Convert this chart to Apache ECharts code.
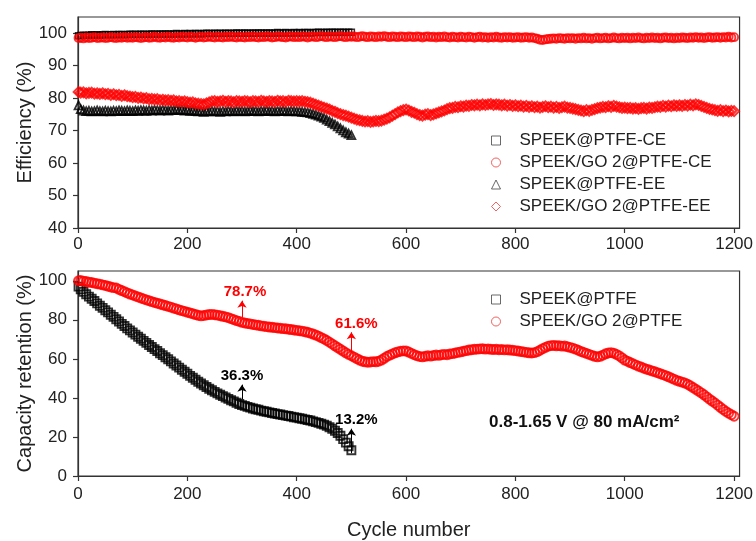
<!DOCTYPE html>
<html>
<head>
<meta charset="utf-8">
<script src="https://cdn.jsdelivr.net/npm/echarts@6/dist/echarts.min.js"></script>
<style>
  html, body { margin: 0; padding: 0; background: #fff; }
  #chart { width: 756px; height: 541px; }
</style>
</head>
<body>
<div id="chart"></div>
<script>
// Cycles between stored points (first point is cycle 1)
const STEP = 5;

const xTicks = [0, 200, 400, 600, 800, 1000, 1200];
const effTicks = [40, 50, 60, 70, 80, 90, 100];
const capTicks = [0, 20, 40, 60, 80, 100];

// Coulombic efficiency (%), SPEEK@PTFE, cycles 1..500
const ceBare = [
  99.2, 99.3, 99.4, 99.3, 99.4, 99.5, 99.4, 99.5, 99.4, 99.5, 99.6, 99.5, 99.5, 99.6, 99.5, 99.6, 99.6, 99.5, 99.6, 99.7,
  99.6, 99.7, 99.6, 99.7, 99.7, 99.6, 99.7, 99.8, 99.7, 99.7, 99.8, 99.7, 99.8, 99.8, 99.7, 99.8, 99.9, 99.8, 99.8, 99.9,
  99.8, 99.9, 99.8, 99.9, 99.9, 99.8, 99.9, 100.0, 99.9, 99.9, 100.0, 99.9, 100.0, 99.9, 100.0, 100.0, 99.9, 100.0, 100.1, 100.0,
  100.0, 100.1, 100.0, 100.0, 100.1, 100.0, 100.1, 100.1, 100.0, 100.1, 100.1, 100.0, 100.1, 100.2, 100.1, 100.1, 100.2, 100.1, 100.1, 100.2,
  100.1, 100.2, 100.1, 100.2, 100.2, 100.1, 100.2, 100.2, 100.3, 100.2, 100.2, 100.3, 100.2, 100.3, 100.3, 100.2, 100.3, 100.3, 100.2, 100.3,
  100.3
];

// Coulombic efficiency (%), SPEEK/GO 2@PTFE, cycles 1..1200
const ceGO = [
  98.5, 98.6, 98.4, 98.7, 98.5, 98.6, 98.8, 98.5, 98.6, 98.7, 98.5, 98.6, 98.8, 98.6, 98.5, 98.7, 98.6, 98.8, 98.6, 98.7,
  98.6, 98.8, 98.7, 98.5, 98.7, 98.8, 98.6, 98.7, 98.9, 98.7, 98.6, 98.8, 98.7, 98.9, 98.7, 98.6, 98.8, 98.7, 98.9, 98.8,
  98.7, 98.9, 98.8, 98.6, 98.8, 98.9, 98.7, 98.8, 99.0, 98.8, 98.7, 98.9, 98.8, 98.7, 98.9, 98.8, 99.0, 98.8, 98.7, 98.9,
  98.8, 98.7, 98.9, 98.8, 99.0, 98.8, 98.7, 98.9, 98.8, 99.0, 98.9, 98.7, 98.8, 99.0, 98.9, 98.8, 98.7, 98.9, 99.0, 98.8,
  98.9, 98.8, 99.0, 98.9, 98.7, 98.9, 99.0, 98.8, 98.9, 99.1, 98.9, 98.8, 99.0, 98.9, 98.8, 99.0, 99.1, 98.9, 98.8, 99.0,
  98.9, 99.0, 98.8, 98.9, 99.1, 98.9, 98.8, 99.0, 98.9, 98.8, 99.0, 98.9, 99.1, 98.9, 98.8, 99.0, 98.9, 98.8, 99.0, 98.9,
  98.8, 99.0, 98.9, 98.8, 99.0, 98.9, 98.7, 98.9, 99.0, 98.8, 98.9, 98.7, 98.9, 98.8, 99.0, 98.8, 98.7, 98.9, 98.8, 98.7,
  98.9, 98.8, 98.7, 98.9, 98.8, 98.6, 98.8, 98.9, 98.7, 98.8, 98.6, 98.8, 98.7, 98.9, 98.7, 98.6, 98.8, 98.7, 98.8, 98.6,
  98.7, 98.8, 98.6, 98.7, 98.8, 98.6, 98.7, 98.5, 98.3, 98.0, 97.9, 98.1, 98.2, 98.3, 98.4, 98.3, 98.5, 98.4, 98.3, 98.5,
  98.4, 98.5, 98.3, 98.5, 98.4, 98.6, 98.4, 98.5, 98.3, 98.5, 98.6, 98.4, 98.5, 98.6, 98.4, 98.5, 98.7, 98.5, 98.4, 98.6,
  98.5, 98.6, 98.4, 98.6, 98.5, 98.7, 98.5, 98.4, 98.6, 98.5, 98.7, 98.5, 98.6, 98.4, 98.6, 98.7, 98.5, 98.6, 98.4, 98.6,
  98.5, 98.7, 98.6, 98.5, 98.7, 98.6, 98.8, 98.6, 98.7, 98.5, 98.7, 98.8, 98.6, 98.7, 98.8, 98.6, 98.8, 98.7, 98.9, 98.7,
  98.8
];

// Energy efficiency (%), SPEEK@PTFE, cycles 1..500
const eeBare = [
  77.8, 76.6, 76.2, 76.0, 76.1, 75.9, 76.0, 76.2, 76.0, 75.9, 76.1, 76.0, 75.9, 76.1, 76.0, 76.2, 76.1, 76.0, 76.2, 76.1,
  76.0, 76.2, 76.1, 76.3, 76.2, 76.1, 76.3, 76.2, 76.4, 76.3, 76.2, 76.4, 76.3, 76.2, 76.4, 76.3, 76.5, 76.3, 76.4, 76.2,
  76.3, 76.1, 76.2, 76.0, 75.9, 76.0, 75.8, 76.0, 75.9, 76.1, 75.9, 76.0, 75.8, 76.0, 75.9, 76.1, 76.0, 75.9, 76.1, 76.0,
  76.1, 75.9, 76.0, 76.2, 76.0, 76.1, 75.9, 76.1, 76.0, 76.2, 76.0, 76.1, 75.9, 76.1, 76.0, 76.2, 76.0, 75.9, 76.1, 76.0,
  75.9, 75.9, 75.8, 75.7, 75.6, 75.4, 75.2, 74.9, 74.6, 74.3, 73.9, 73.4, 72.9, 72.4, 71.9, 71.3, 70.7, 70.1, 69.5, 69.1,
  68.6
];

// Energy efficiency (%), SPEEK/GO 2@PTFE, cycles 1..1200
const eeGO = [
  81.9, 81.7, 81.8, 81.5, 81.6, 81.7, 81.4, 81.5, 81.3, 81.5, 81.2, 81.3, 81.0, 81.2, 80.9, 81.0, 80.7, 80.9, 80.6, 80.5,
  80.3, 80.4, 80.1, 80.2, 79.9, 80.0, 79.7, 79.8, 79.6, 79.7, 79.4, 79.5, 79.3, 79.4, 79.2, 79.3, 79.0, 79.1, 78.9, 79.0,
  78.8, 78.6, 78.7, 78.4, 78.3, 78.2, 78.1, 78.4, 78.7, 79.0, 79.1, 78.9, 79.0, 79.2, 78.9, 79.1, 79.0, 78.8, 79.1, 79.0,
  78.9, 79.1, 79.0, 78.8, 79.1, 79.0, 78.9, 79.2, 79.0, 78.9, 79.1, 79.0, 78.9, 79.2, 79.0, 79.1, 78.9, 79.2, 79.1, 79.0,
  79.1, 79.0, 79.1, 78.9, 78.8, 78.6, 78.3, 78.0, 77.7, 77.4, 77.1, 76.8, 76.5, 76.1, 75.8, 75.4, 75.1, 74.8, 74.6, 74.3,
  74.0, 73.7, 73.4, 73.2, 73.0, 72.8, 72.9, 72.7, 72.8, 73.0, 72.9, 73.1, 73.4, 73.7, 74.1, 74.6, 75.1, 75.6, 76.0, 76.3,
  76.5, 76.2, 75.8, 75.5, 75.1, 74.8, 74.6, 74.9, 75.1, 74.8, 75.0, 75.3, 75.6, 75.9, 76.2, 76.6, 76.9, 77.0, 77.3, 77.2,
  77.5, 77.4, 77.7, 77.6, 77.9, 77.8, 78.0, 77.8, 78.1, 77.9, 78.1, 78.2, 77.9, 78.1, 78.0, 77.8, 78.0, 77.7, 77.9, 77.6,
  77.8, 77.5, 77.7, 77.4, 77.6, 77.3, 77.5, 77.2, 77.4, 77.1, 77.3, 77.5, 77.2, 77.4, 77.1, 77.3, 77.0, 77.2, 77.4, 77.1,
  77.0, 76.8, 76.6, 76.4, 76.2, 76.0, 76.3, 76.1, 76.4, 76.6, 76.9, 77.1, 77.3, 77.2, 77.5, 77.3, 77.6, 77.4, 77.2, 77.0,
  77.1, 76.9, 77.0, 76.8, 76.9, 76.7, 76.9, 77.0, 76.8, 77.1, 77.0, 77.2, 77.4, 77.3, 77.6, 77.4, 77.7, 77.5, 77.8, 77.6,
  77.8, 77.6, 77.9, 77.7, 78.0, 77.8, 78.1, 77.9, 77.6, 77.3, 77.0, 76.7, 76.5, 76.3, 76.1, 76.3, 76.0, 76.2, 75.9, 76.1,
  76.0
];

// Capacity retention (%), SPEEK@PTFE, cycles 1..500
const capBare = [
  97.0, 95.6, 94.3, 93.1, 91.9, 90.8, 89.6, 88.4, 87.2, 86.1, 84.9, 83.8, 82.6, 81.5, 80.3, 79.1, 77.9, 76.8, 75.6, 74.6,
  73.5, 72.4, 71.3, 70.3, 69.2, 68.2, 67.1, 66.1, 65.0, 64.0, 62.9, 61.9, 60.8, 59.8, 58.7, 57.6, 56.6, 55.5, 54.4, 53.4,
  52.4, 51.3, 50.3, 49.3, 48.3, 47.4, 46.5, 45.6, 44.7, 43.9, 43.1, 42.3, 41.6, 40.9, 40.2, 39.5, 38.8, 38.2, 37.5, 36.9,
  36.3, 35.9, 35.4, 35.0, 34.6, 34.2, 33.9, 33.5, 33.2, 32.9, 32.6, 32.3, 32.0, 31.7, 31.5, 31.2, 30.9, 30.7, 30.4, 30.1,
  29.9, 29.6, 29.3, 29.0, 28.7, 28.4, 28.0, 27.6, 27.2, 26.8, 26.3, 25.7, 25.0, 24.2, 23.2, 22.0, 20.6, 18.9, 17.1, 15.2,
  13.2
];

// Capacity retention (%), SPEEK/GO 2@PTFE, cycles 1..1200
const capGO = [
  100.0, 100.1, 99.8, 99.6, 99.3, 99.1, 98.8, 98.5, 98.3, 97.9, 97.6, 97.2, 96.8, 96.5, 96.3, 95.6, 95.0, 94.4, 93.8, 93.2,
  92.7, 92.2, 91.7, 91.2, 90.7, 90.2, 89.8, 89.3, 88.9, 88.5, 88.1, 87.7, 87.3, 86.9, 86.5, 86.0, 85.6, 85.1, 84.7, 84.3,
  83.9, 83.5, 83.1, 82.7, 82.3, 82.0, 82.2, 82.5, 82.7, 82.8, 82.6, 82.4, 82.1, 81.8, 81.5, 81.1, 80.6, 80.1, 79.6, 79.2,
  78.7, 78.4, 78.1, 77.9, 77.6, 77.4, 77.2, 76.9, 76.7, 76.5, 76.3, 76.2, 76.0, 75.8, 75.7, 75.5, 75.4, 75.2, 75.0, 74.8,
  74.6, 74.4, 74.2, 73.9, 73.6, 73.2, 72.7, 72.2, 71.6, 70.9, 70.2, 69.4, 68.5, 67.6, 66.7, 65.8, 64.9, 64.0, 63.1, 62.3,
  61.6, 60.9, 60.1, 59.4, 58.8, 58.5, 58.3, 58.4, 58.6, 58.5, 58.8, 59.4, 60.3, 61.2, 61.9, 62.5, 63.1, 63.6, 63.9, 64.1,
  64.0, 63.5, 62.8, 62.1, 61.6, 61.2, 61.0, 61.3, 61.6, 61.4, 61.7, 62.0, 61.8, 62.1, 62.3, 62.1, 62.5, 62.7, 63.0, 63.3,
  63.6, 63.9, 64.2, 64.5, 64.7, 64.9, 65.0, 65.1, 65.2, 65.0, 65.1, 64.9, 64.8, 64.9, 64.7, 64.8, 64.6, 64.7, 64.5, 64.4,
  64.2, 64.0, 63.8, 63.6, 63.3, 63.1, 63.0, 63.2, 63.7, 64.4, 65.2, 65.9, 66.5, 66.8, 66.9, 66.7, 66.8, 66.5, 66.6, 66.2,
  65.9, 65.5, 65.0, 64.4, 63.8, 63.3, 62.8, 62.3, 61.8, 61.3, 61.0, 61.3, 61.9, 62.6, 63.0, 63.2, 62.9, 62.3, 61.5, 60.5,
  59.4, 58.8, 58.1, 57.5, 56.9, 56.3, 55.8, 55.2, 54.7, 54.3, 53.8, 53.4, 52.9, 52.4, 51.9, 51.4, 50.8, 50.2, 49.6, 49.0,
  48.5, 48.1, 47.6, 47.0, 46.2, 45.3, 44.4, 43.5, 42.6, 41.6, 40.5, 39.4, 38.4, 37.4, 36.3, 35.2, 34.1, 33.1, 32.2, 31.4,
  30.6
];

const RED = '#ff0000';
const BLACK = '#000000';
const FONT = '"Liberation Sans", Arial, Helvetica, sans-serif';

// [cycle, value] pairs
const pts = arr => arr.map((v, i) => [Math.max(1, i * STEP), v]);
const at = (arr, cycle) => arr[cycle / STEP];

function hollow(color, width) {
  return { color: 'rgba(0,0,0,0)', borderColor: color, borderWidth: width };
}

// Vertical arrow with value text above it, anchored to a data point
function pointer(arr, cycle, color, from, to, dx) {
  const v = at(arr, cycle);
  return [
    {
      coord: [cycle, v + from],
      lineStyle: { color: color, width: 1, type: 'solid' },
      label: {
        show: true, position: 'end', distance: 1, offset: [dx, 0],
        formatter: v.toFixed(1) + '%',
        color: color, fontFamily: FONT, fontWeight: 'bold', fontSize: 15
      }
    },
    { coord: [cycle, v + to] }
  ];
}

const plain = v => String(v);

const axisLine = { show: true, onZero: false, lineStyle: { color: '#333', width: 1.2 } };
const tickBase = { show: true, inside: false, length: 5, lineStyle: { color: '#333', width: 1.2 } };
const labelBase = { color: '#222', fontFamily: FONT, fontSize: 17, formatter: plain };

function xAxis(gridIndex, withName) {
  return {
    type: 'value', gridIndex: gridIndex, min: 0, max: 1210, interval: 200,
    axisLine: axisLine,
    axisTick: Object.assign({}, tickBase, { customValues: xTicks }),
    splitLine: { show: false },
    axisLabel: Object.assign({}, labelBase, { customValues: xTicks, margin: withName ? 10 : 8 }),
    name: withName ? 'Cycle number' : '',
    nameLocation: 'middle', nameGap: 44, nameMoveOverlap: false,
    nameTextStyle: { color: '#222', fontFamily: FONT, fontSize: 20 }
  };
}

function yAxis(gridIndex, min, max, step, ticks, name) {
  return {
    type: 'value', gridIndex: gridIndex, min: min, max: max, interval: step,
    axisLine: axisLine,
    axisTick: Object.assign({}, tickBase, { customValues: ticks }),
    splitLine: { show: false },
    axisLabel: Object.assign({}, labelBase, { customValues: ticks, margin: 11 }),
    name: name, nameLocation: 'middle', nameGap: 43, nameRotate: 90, nameMoveOverlap: false,
    nameTextStyle: { color: '#222', fontFamily: FONT, fontSize: 20 }
  };
}

// Legend entries use thin outlines
function legendItem(name, color) {
  return { name: name, itemStyle: { color: 'rgba(0,0,0,0)', borderColor: color, borderWidth: 1 } };
}

const LEG_BLACK = '#444';
const LEG_RED = '#f03a3a';

const legendCommon = {
  orient: 'vertical', left: 486, itemWidth: 9, itemHeight: 9, itemGap: 5,
  selectedMode: false,
  textStyle: { color: '#222', fontFamily: FONT, fontSize: 17, padding: [0, 0, 0, 14] }
};

const chart = echarts.init(document.getElementById('chart'), null, { renderer: 'canvas' });

chart.setOption({
  animation: false,
  backgroundColor: '#fff',
  grid: [
    { left: 78, right: 15, top: 17, height: 211, show: true, borderColor: '#333', borderWidth: 1.2, backgroundColor: 'transparent' },
    { left: 78, right: 15, top: 271, height: 209, show: true, borderColor: '#333', borderWidth: 1.2, backgroundColor: 'transparent' }
  ],
  xAxis: [xAxis(0, false), xAxis(1, true)],
  yAxis: [
    yAxis(0, 40, 105, 10, effTicks, 'Efficiency (%)'),
    yAxis(1, 0, 105, 20, capTicks, 'Capacity retention (%)')
  ],
  legend: [
    Object.assign({}, legendCommon, {
      top: 127,
      data: [
        legendItem('SPEEK@PTFE-CE', LEG_BLACK),
        legendItem('SPEEK/GO 2@PTFE-CE', LEG_RED),
        legendItem('SPEEK@PTFE-EE', LEG_BLACK),
        legendItem('SPEEK/GO 2@PTFE-EE', LEG_RED)
      ]
    }),
    Object.assign({}, legendCommon, {
      top: 286,
      data: [
        legendItem('SPEEK@PTFE', LEG_BLACK),
        legendItem('SPEEK/GO 2@PTFE', LEG_RED)
      ]
    })
  ],
  graphic: [
    {
      type: 'text', left: 489, top: 414,
      style: { text: '0.8-1.65 V @ 80 mA/cm²', fill: '#111', font: 'bold 17px ' + FONT }
    }
  ],
  series: [
    {
      name: 'SPEEK@PTFE-CE', type: 'scatter', xAxisIndex: 0, yAxisIndex: 0,
      symbol: 'rect', symbolSize: 6, itemStyle: hollow(BLACK, 1.5), data: pts(ceBare)
    },
    {
      name: 'SPEEK/GO 2@PTFE-CE', type: 'scatter', xAxisIndex: 0, yAxisIndex: 0,
      symbol: 'circle', symbolSize: 8, itemStyle: hollow(RED, 1.9), data: pts(ceGO)
    },
    {
      name: 'SPEEK@PTFE-EE', type: 'scatter', xAxisIndex: 0, yAxisIndex: 0,
      symbol: 'triangle', symbolSize: 8, itemStyle: hollow(BLACK, 1.8), data: pts(eeBare)
    },
    {
      name: 'SPEEK/GO 2@PTFE-EE', type: 'scatter', xAxisIndex: 0, yAxisIndex: 0,
      symbol: 'diamond', symbolSize: 10, itemStyle: hollow(RED, 1.9), data: pts(eeGO)
    },
    {
      name: 'SPEEK@PTFE', type: 'scatter', xAxisIndex: 1, yAxisIndex: 1,
      symbol: 'rect', symbolSize: 8, itemStyle: hollow(BLACK, 1.9), data: pts(capBare),
      markLine: {
        silent: true, symbol: ['none', 'arrow'], symbolSize: 7,
        data: [
          pointer(capBare, 300, BLACK, 3.0, 10.5, 0),
          pointer(capBare, 500, BLACK, -1.5, 11.0, 5)
        ]
      }
    },
    {
      name: 'SPEEK/GO 2@PTFE', type: 'scatter', xAxisIndex: 1, yAxisIndex: 1,
      symbol: 'circle', symbolSize: 9, itemStyle: hollow(RED, 1.9), data: pts(capGO),
      markLine: {
        silent: true, symbol: ['none', 'arrow'], symbolSize: 7,
        data: [
          pointer(capGO, 300, RED, 2.6, 11.1, 3),
          pointer(capGO, 500, RED, 1.4, 12.0, 5)
        ]
      }
    }
  ]
});
</script>
</body>
</html>
